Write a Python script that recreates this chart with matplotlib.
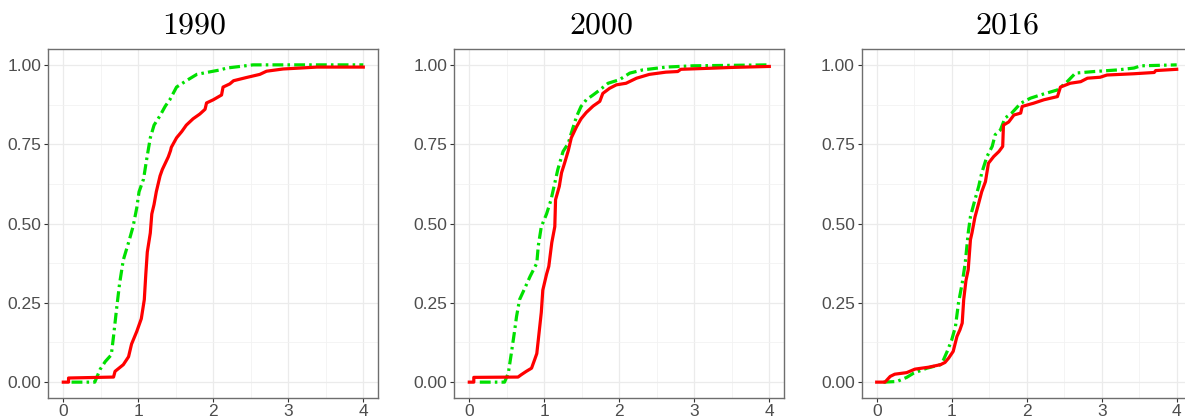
import matplotlib.pyplot as plt
from matplotlib.ticker import MultipleLocator

plt.rcParams['font.family'] = ['Liberation Sans', 'DejaVu Sans']

# --- Data (ECDF knots: x value, cumulative share) ---
years = ['1990', '2000', '2016']

red_x_1990 = [0, 0.07, 0.07, 0.67, 0.69, 0.8, 0.87, 0.91, 0.98, 1.04, 1.08, 1.1, 1.12, 1.16, 1.18, 1.21,
              1.24, 1.29, 1.32, 1.36, 1.4, 1.43, 1.44, 1.51, 1.58, 1.64, 1.73, 1.82, 1.89, 1.91, 2.0,
              2.11, 2.13, 2.22, 2.27, 2.44, 2.62, 2.71, 2.93, 3.16, 3.38, 4.0]
red_y_1990 = [0, 0, 0.013, 0.016, 0.034, 0.055, 0.08, 0.12, 0.16, 0.2, 0.26, 0.34, 0.41, 0.47, 0.53, 0.56,
              0.6, 0.65, 0.67, 0.69, 0.71, 0.73, 0.74, 0.77, 0.79, 0.81, 0.83, 0.845, 0.86, 0.88, 0.89,
              0.905, 0.93, 0.94, 0.95, 0.96, 0.97, 0.98, 0.987, 0.99, 0.993, 0.993]
green_x_1990 = [0.11, 0.42, 0.49, 0.56, 0.64, 0.67, 0.71, 0.75, 0.8, 0.87, 0.93, 0.98, 1.01, 1.07, 1.11,
                1.16, 1.21, 1.29, 1.36, 1.42, 1.51, 1.64, 1.78, 1.91, 2.09, 2.18, 2.53, 4.0]
green_y_1990 = [0, 0, 0.04, 0.065, 0.086, 0.145, 0.23, 0.31, 0.385, 0.44, 0.49, 0.55, 0.6, 0.64, 0.7,
                0.77, 0.81, 0.84, 0.87, 0.89, 0.93, 0.95, 0.97, 0.976, 0.984, 0.99, 1.0, 1.0]

red_x_2000 = [0, 0.06, 0.06, 0.65, 0.69, 0.76, 0.83, 0.87, 0.9, 0.93, 0.96, 0.98, 1.03, 1.06, 1.1, 1.14,
              1.15, 1.2, 1.23, 1.27, 1.32, 1.36, 1.43, 1.49, 1.56, 1.65, 1.74, 1.78, 1.87, 1.96, 2.09,
              2.23, 2.4, 2.62, 2.78, 2.82, 3.29, 3.51, 4.0]
red_y_2000 = [0, 0, 0.015, 0.016, 0.023, 0.034, 0.044, 0.07, 0.09, 0.155, 0.22, 0.29, 0.34, 0.365, 0.44,
              0.49, 0.575, 0.617, 0.66, 0.69, 0.73, 0.77, 0.805, 0.83, 0.85, 0.87, 0.885, 0.91, 0.926,
              0.937, 0.942, 0.958, 0.97, 0.977, 0.979, 0.986, 0.99, 0.992, 0.995]
green_x_2000 = [0.14, 0.47, 0.52, 0.56, 0.6, 0.63, 0.67, 0.74, 0.81, 0.9, 0.92, 0.96, 1.03, 1.09, 1.13,
                1.18, 1.25, 1.32, 1.36, 1.43, 1.49, 1.56, 1.65, 1.74, 1.85, 2.0, 2.14, 2.31, 2.62, 2.98,
                4.0]
green_y_2000 = [0, 0, 0.028, 0.09, 0.155, 0.207, 0.26, 0.296, 0.333, 0.375, 0.43, 0.49, 0.53, 0.575,
                0.617, 0.67, 0.727, 0.753, 0.785, 0.837, 0.869, 0.89, 0.905, 0.921, 0.942, 0.953, 0.974,
                0.984, 0.993, 0.997, 1.0]

red_x_2016 = [0, 0.11, 0.18, 0.24, 0.4, 0.51, 0.69, 0.85, 0.91, 0.96, 1.02, 1.07, 1.11, 1.14, 1.16, 1.19,
              1.22, 1.25, 1.27, 1.31, 1.36, 1.4, 1.45, 1.49, 1.56, 1.63, 1.68, 1.69, 1.76, 1.83, 1.92,
              1.94, 2.09, 2.23, 2.41, 2.45, 2.58, 2.72, 2.81, 2.98, 3.07, 3.43, 3.7, 3.72, 4.0]
red_y_2016 = [0, 0, 0.018, 0.025, 0.03, 0.041, 0.047, 0.055, 0.062, 0.076, 0.097, 0.144, 0.165, 0.186,
              0.26, 0.32, 0.354, 0.449, 0.47, 0.52, 0.564, 0.6, 0.632, 0.69, 0.711, 0.727, 0.743, 0.81,
              0.82, 0.842, 0.848, 0.869, 0.879, 0.89, 0.9, 0.93, 0.942, 0.947, 0.958, 0.961, 0.968,
              0.972, 0.976, 0.982, 0.986]
green_x_2016 = [0.09, 0.27, 0.4, 0.49, 0.67, 0.85, 0.89, 0.94, 1.0, 1.05, 1.09, 1.14, 1.18, 1.22, 1.25,
                1.31, 1.36, 1.4, 1.47, 1.54, 1.58, 1.65, 1.71, 1.8, 1.92, 2.05, 2.18, 2.41, 2.54, 2.65,
                2.9, 3.21, 3.43, 3.52, 4.0]
green_y_2016 = [0, 0.002, 0.015, 0.028, 0.044, 0.055, 0.07, 0.097, 0.133, 0.175, 0.249, 0.312, 0.375,
                0.47, 0.522, 0.575, 0.617, 0.659, 0.711, 0.743, 0.78, 0.795, 0.832, 0.848, 0.879, 0.895,
                0.905, 0.921, 0.947, 0.974, 0.979, 0.984, 0.99, 0.997, 1.0]

red_series = [(red_x_1990, red_y_1990), (red_x_2000, red_y_2000), (red_x_2016, red_y_2016)]
green_series = [(green_x_1990, green_y_1990), (green_x_2000, green_y_2000), (green_x_2016, green_y_2016)]

# --- Figure layout (ggplot theme_bw look) ---
W, H = 1185, 417
fig = plt.figure(figsize=(W / 100, H / 100), dpi=100)
lefts = [48.3, 454.3, 861.7]
title_x = [194, 601, 1007]
ax_w, ax_top, ax_bot = 330, 49, 398

for i, year in enumerate(years):
    ax = fig.add_axes([lefts[i] / W, (H - ax_bot) / H, ax_w / W, (ax_bot - ax_top) / H])
    ax.set_xlim(-0.2, 4.2)
    ax.set_ylim(-0.05, 1.05)
    ax.xaxis.set_major_locator(MultipleLocator(1))
    ax.xaxis.set_minor_locator(MultipleLocator(0.5))
    ax.yaxis.set_minor_locator(MultipleLocator(0.125))
    ax.set_yticks([0, 0.25, 0.5, 0.75, 1.0])
    ax.set_yticklabels(['0.00', '0.25', '0.50', '0.75', '1.00'])
    ax.grid(which='major', color='#ebebeb', linewidth=0.9)
    ax.grid(which='minor', color='#f2f2f2', linewidth=0.6)
    ax.set_axisbelow(True)
    ax.tick_params(which='major', length=3.2, width=0.8, color='#333333', pad=1.8,
                   labelsize=12.5, labelcolor='#4d4d4d')
    ax.tick_params(axis='x', pad=1.0)
    ax.tick_params(which='minor', length=0)
    for sp in ax.spines.values():
        sp.set_color('#6e6e6e')
        sp.set_linewidth(1.0)

    gx, gy = green_series[i]
    rx, ry = red_series[i]
    ax.plot(gx, gy, color='#00e000', linewidth=2.3, linestyle=(0, (3.4, 1.3, 0.8, 1.3)),
            solid_capstyle='butt')
    ax.plot(rx, ry, color='#ff0000', linewidth=2.3)

    fig.text(title_x[i] / W, (H - 33) / H, year, fontsize=23, family='cmr10',
             ha='center', va='baseline')

plt.savefig('out.png', dpi=100)
